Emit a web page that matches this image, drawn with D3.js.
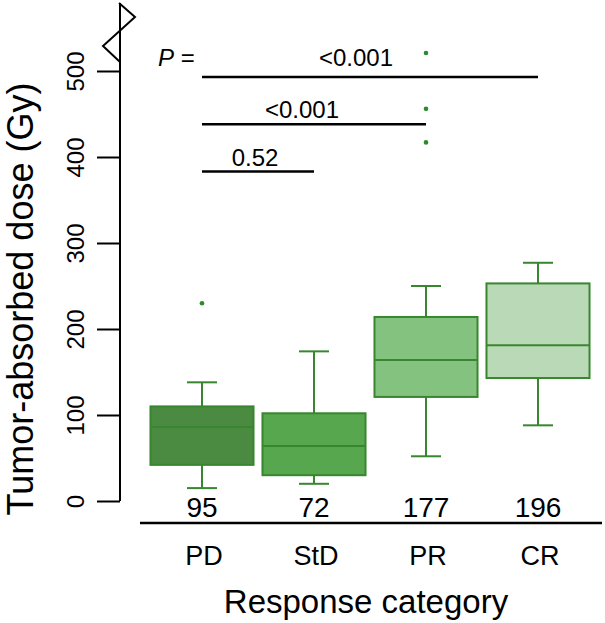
<!DOCTYPE html>
<html>
<head>
<meta charset="utf-8">
<script src="https://cdn.jsdelivr.net/npm/d3@7"></script>
<style>
  body { margin: 0; background: #fff; }
  text { font-family: "Liberation Sans", Arial, sans-serif; fill: #000; }
</style>
</head>
<body>
<div id="chart"></div>
<script>
// chart data
var categories = ["PD", "StD", "PR", "CR"];
var counts = [95, 72, 177, 196];
var whiskerLow = [15, 20, 52, 88];
var q1 = [42, 30, 121, 143];
var medians = [86, 64, 164, 181];
var q3 = [110, 102, 214, 253];
var whiskerHigh = [138, 174, 250, 277];
var outliers = [[230], [], [417, 456, 521], []];
var fills = ["#4a8b41", "#57a74e", "#84c27f", "#b9d9b7"];
var yTicks = [0, 100, 200, 300, 400, 500];
// comparisons: [from, to, level (Gy), label]
var pFrom = ["PD", "PD", "PD"];
var pTo = ["CR", "PR", "StD"];
var pLevel = [493, 438, 383];
var pLabel = ["<0.001", "<0.001", "0.52"];

var svgWidth = 605;
var svgHeight = 623;

var svg = d3.select("#chart")
  .append("svg")
  .attr("width", svgWidth)
  .attr("height", svgHeight);

var xScale = d3.scalePoint()
  .domain(categories)
  .range([146, 594])
  .padding(0.5);

var yScale = d3.scaleLinear()
  .domain([0, 500])
  .range([501, 71]);

var step = xScale.step();
var boxW = step * 0.92;
var capW = 30;
var lineCol = "#38862f";

// y axis with ticks and rotated labels
var leftAxis = d3.axisLeft(yScale)
  .tickValues(yTicks)
  .tickSize(23)
  .tickPadding(0)
  .tickFormat("");

var yAxis = svg.append("g")
  .attr("transform", "translate(120,0)")
  .call(leftAxis);
yAxis.select(".domain").remove();
yAxis.selectAll(".tick line")
  .attr("stroke", "#000")
  .attr("stroke-width", 2);

yAxis.selectAll(".tick")
  .append("text")
  .attr("transform", "translate(-36,0) rotate(-90)")
  .attr("text-anchor", "middle")
  .attr("font-size", 24)
  .text(d => d);

// axis line with break mark at the top
svg.append("path")
  .attr("d", "M120," + yScale(0) + "V3")
  .attr("fill", "none")
  .attr("stroke", "#000")
  .attr("stroke-width", 2);
svg.append("path")
  .attr("d", "M120,62L103,46L135,17L119,3")
  .attr("fill", "none")
  .attr("stroke", "#000")
  .attr("stroke-width", 2);

// horizontal line under the n labels
svg.append("line")
  .attr("x1", 140).attr("x2", 602)
  .attr("y1", 523).attr("y2", 523)
  .attr("stroke", "#000")
  .attr("stroke-width", 2.5);

// boxes
var groups = svg.selectAll(".box")
  .data(categories)
  .enter()
  .append("g")
  .attr("class", "box");

groups.append("line")
  .attr("x1", d => xScale(d)).attr("x2", d => xScale(d))
  .attr("y1", (d, i) => yScale(whiskerLow[i]))
  .attr("y2", (d, i) => yScale(whiskerHigh[i]))
  .attr("stroke", lineCol).attr("stroke-width", 2);

groups.append("line")
  .attr("x1", d => xScale(d) - capW / 2).attr("x2", d => xScale(d) + capW / 2)
  .attr("y1", (d, i) => yScale(whiskerLow[i]))
  .attr("y2", (d, i) => yScale(whiskerLow[i]))
  .attr("stroke", lineCol).attr("stroke-width", 2);

groups.append("line")
  .attr("x1", d => xScale(d) - capW / 2).attr("x2", d => xScale(d) + capW / 2)
  .attr("y1", (d, i) => yScale(whiskerHigh[i]))
  .attr("y2", (d, i) => yScale(whiskerHigh[i]))
  .attr("stroke", lineCol).attr("stroke-width", 2);

groups.append("rect")
  .attr("x", d => xScale(d) - boxW / 2)
  .attr("width", boxW)
  .attr("y", (d, i) => yScale(q3[i]))
  .attr("height", (d, i) => yScale(q1[i]) - yScale(q3[i]))
  .attr("fill", (d, i) => fills[i])
  .attr("stroke", lineCol).attr("stroke-width", 2);

groups.append("line")
  .attr("x1", d => xScale(d) - boxW / 2).attr("x2", d => xScale(d) + boxW / 2)
  .attr("y1", (d, i) => yScale(medians[i]))
  .attr("y2", (d, i) => yScale(medians[i]))
  .attr("stroke", lineCol).attr("stroke-width", 2);

// outliers
categories.forEach(function(c, i) {
  svg.selectAll(null)
    .data(outliers[i])
    .enter()
    .append("circle")
    .attr("cx", xScale(c))
    .attr("cy", d => yScale(d))
    .attr("r", 2.3)
    .attr("fill", "#2b8a2b");
});

// n labels
svg.selectAll(".nlab")
  .data(categories)
  .enter()
  .append("text")
  .attr("class", "nlab")
  .attr("x", d => xScale(d))
  .attr("y", 517)
  .attr("text-anchor", "middle")
  .attr("font-size", 28)
  .text((d, i) => counts[i]);

// category labels
svg.selectAll(".clab")
  .data(categories)
  .enter()
  .append("text")
  .attr("class", "clab")
  .attr("x", d => xScale(d) + 2)
  .attr("y", 565)
  .attr("text-anchor", "middle")
  .attr("font-size", 27)
  .text(d => d);

// significance brackets
var labelShift = [-14, -12, -3];
pLabel.forEach(function(lab, i) {
  var x1 = xScale(pFrom[i]);
  var x2 = xScale(pTo[i]);
  var y = yScale(pLevel[i]);
  svg.append("line")
    .attr("x1", x1).attr("x2", x2)
    .attr("y1", y).attr("y2", y)
    .attr("stroke", "#000")
    .attr("stroke-width", 2.5);
  svg.append("text")
    .attr("x", (x1 + x2) / 2 + labelShift[i])
    .attr("y", y - (i == 0 ? 11 : 6))
    .attr("text-anchor", "middle")
    .attr("font-size", 24)
    .text(lab);
});

var pText = svg.append("text")
  .attr("x", 158)
  .attr("y", 66)
  .attr("font-size", 24);
pText.append("tspan").attr("font-style", "italic").text("P");
pText.append("tspan").text(" =");

// axis titles
svg.append("text")
  .attr("transform", "translate(33,299) rotate(-90)")
  .attr("text-anchor", "middle")
  .attr("font-size", 36)
  .text("Tumor-absorbed dose (Gy)");

svg.append("text")
  .attr("x", 366)
  .attr("y", 613)
  .attr("text-anchor", "middle")
  .attr("font-size", 33)
  .text("Response category");
</script>
</body>
</html>
